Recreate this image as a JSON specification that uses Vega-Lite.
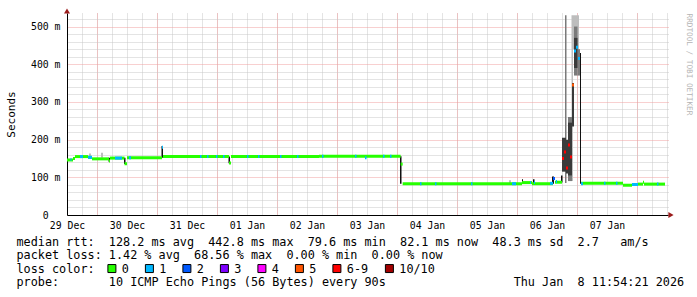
{
  "$schema": "https://vega.github.io/schema/vega-lite/v6.json",
  "width": 601,
  "height": 202,
  "autosize": {"type": "none"},
  "padding": {"left": 67, "top": 13, "right": 29, "bottom": 82},
  "background": "white",
  "config": {
    "view": {"stroke": null},
    "axis": {"labelFont": "DejaVu Sans Mono", "titleFont": "DejaVu Sans Mono", "titleFontWeight": "normal", "labelColor": "#000", "titleColor": "#000"}
  },
  "resolve": {"axis": {"x": "independent", "y": "independent"}, "legend": {"color": "independent"}},
  "datasets": {
    "smoke": [
      {"t0": "2025-12-29T08:48Z", "t1": "2025-12-29T09:36Z", "lo": 0.155, "hi": 0.163, "shade": "light"},
      {"t0": "2025-12-29T13:36Z", "t1": "2025-12-29T14:24Z", "lo": 0.152, "hi": 0.165, "shade": "light"},
      {"t0": "2026-01-05T08:48Z", "t1": "2026-01-05T09:36Z", "lo": 0.084, "hi": 0.092, "shade": "light"},
      {"t0": "2026-01-06T09:48Z", "t1": "2026-01-06T10:24Z", "lo": 0.090, "hi": 0.530, "shade": "light"},
      {"t0": "2026-01-06T10:24Z", "t1": "2026-01-06T12:48Z", "lo": 0.440, "hi": 0.530, "shade": "light"},
      {"t0": "2026-01-06T07:12Z", "t1": "2026-01-06T07:48Z", "lo": 0.085, "hi": 0.530, "shade": "mid"},
      {"t0": "2026-01-06T08:24Z", "t1": "2026-01-06T10:00Z", "lo": 0.090, "hi": 0.260, "shade": "mid"},
      {"t0": "2026-01-06T10:48Z", "t1": "2026-01-06T12:12Z", "lo": 0.370, "hi": 0.500, "shade": "mid"},
      {"t0": "2026-01-06T12:12Z", "t1": "2026-01-06T13:12Z", "lo": 0.370, "hi": 0.440, "shade": "mid"},
      {"t0": "2026-01-06T06:00Z", "t1": "2026-01-06T07:36Z", "lo": 0.115, "hi": 0.205, "shade": "dark"},
      {"t0": "2026-01-06T07:36Z", "t1": "2026-01-06T08:24Z", "lo": 0.110, "hi": 0.200, "shade": "dark"},
      {"t0": "2026-01-06T08:24Z", "t1": "2026-01-06T10:00Z", "lo": 0.105, "hi": 0.245, "shade": "dark"},
      {"t0": "2026-01-06T10:00Z", "t1": "2026-01-06T10:48Z", "lo": 0.235, "hi": 0.350, "shade": "dark"},
      {"t0": "2026-01-06T10:48Z", "t1": "2026-01-06T12:12Z", "lo": 0.390, "hi": 0.470, "shade": "dark"},
      {"t0": "2025-12-29T16:36Z", "t1": "2025-12-29T17:12Z", "lo": 0.141, "hi": 0.152, "shade": "black"},
      {"t0": "2025-12-29T22:48Z", "t1": "2025-12-29T23:24Z", "lo": 0.135, "hi": 0.152, "shade": "black"},
      {"t0": "2025-12-30T13:48Z", "t1": "2025-12-30T14:24Z", "lo": 0.152, "hi": 0.183, "shade": "black"},
      {"t0": "2025-12-31T16:36Z", "t1": "2025-12-31T17:12Z", "lo": 0.137, "hi": 0.155, "shade": "black"},
      {"t0": "2026-01-03T13:12Z", "t1": "2026-01-03T13:48Z", "lo": 0.083, "hi": 0.156, "shade": "black"},
      {"t0": "2026-01-05T14:00Z", "t1": "2026-01-05T14:24Z", "lo": 0.083, "hi": 0.095, "shade": "black"},
      {"t0": "2026-01-05T18:24Z", "t1": "2026-01-05T19:00Z", "lo": 0.083, "hi": 0.095, "shade": "black"},
      {"t0": "2026-01-06T02:00Z", "t1": "2026-01-06T02:48Z", "lo": 0.083, "hi": 0.102, "shade": "black"},
      {"t0": "2026-01-06T05:36Z", "t1": "2026-01-06T06:12Z", "lo": 0.086, "hi": 0.105, "shade": "black"},
      {"t0": "2026-01-06T13:12Z", "t1": "2026-01-06T13:36Z", "lo": 0.083, "hi": 0.430, "shade": "black"}
    ],
    "median": [
      {"t0": "2025-12-29T00:00Z", "t1": "2025-12-29T02:24Z", "rtt": 0.146, "loss": "0"},
      {"t0": "2025-12-29T02:24Z", "t1": "2025-12-29T03:12Z", "rtt": 0.150, "loss": "0"},
      {"t0": "2025-12-29T03:12Z", "t1": "2025-12-29T08:24Z", "rtt": 0.155, "loss": "0"},
      {"t0": "2025-12-29T08:24Z", "t1": "2025-12-29T10:00Z", "rtt": 0.153, "loss": "0"},
      {"t0": "2025-12-29T10:00Z", "t1": "2025-12-29T16:48Z", "rtt": 0.149, "loss": "0"},
      {"t0": "2025-12-29T16:48Z", "t1": "2025-12-29T17:12Z", "rtt": 0.143, "loss": "0"},
      {"t0": "2025-12-29T17:12Z", "t1": "2025-12-29T23:00Z", "rtt": 0.151, "loss": "0"},
      {"t0": "2025-12-29T23:00Z", "t1": "2025-12-30T00:00Z", "rtt": 0.136, "loss": "0"},
      {"t0": "2025-12-30T00:00Z", "t1": "2025-12-30T14:00Z", "rtt": 0.152, "loss": "0"},
      {"t0": "2025-12-30T14:24Z", "t1": "2025-12-31T16:48Z", "rtt": 0.155, "loss": "0"},
      {"t0": "2025-12-31T16:48Z", "t1": "2025-12-31T17:36Z", "rtt": 0.138, "loss": "0"},
      {"t0": "2025-12-31T17:36Z", "t1": "2026-01-02T04:48Z", "rtt": 0.155, "loss": "0"},
      {"t0": "2026-01-02T04:48Z", "t1": "2026-01-03T13:28Z", "rtt": 0.156, "loss": "0"},
      {"t0": "2026-01-03T13:28Z", "t1": "2026-01-03T14:16Z", "rtt": 0.135, "loss": "0"},
      {"t0": "2026-01-03T14:16Z", "t1": "2026-01-05T14:00Z", "rtt": 0.083, "loss": "0"},
      {"t0": "2026-01-05T14:00Z", "t1": "2026-01-05T18:00Z", "rtt": 0.086, "loss": "0"},
      {"t0": "2026-01-05T18:00Z", "t1": "2026-01-06T02:24Z", "rtt": 0.083, "loss": "0"},
      {"t0": "2026-01-06T03:12Z", "t1": "2026-01-06T06:00Z", "rtt": 0.087, "loss": "0"},
      {"t0": "2026-01-06T13:36Z", "t1": "2026-01-07T06:24Z", "rtt": 0.084, "loss": "0"},
      {"t0": "2026-01-07T06:24Z", "t1": "2026-01-07T10:00Z", "rtt": 0.079, "loss": "0"},
      {"t0": "2026-01-07T12:24Z", "t1": "2026-01-07T14:24Z", "rtt": 0.082, "loss": "0"},
      {"t0": "2026-01-07T14:24Z", "t1": "2026-01-07T14:48Z", "rtt": 0.087, "loss": "0"},
      {"t0": "2026-01-07T14:48Z", "t1": "2026-01-07T23:12Z", "rtt": 0.082, "loss": "0"},
      {"t0": "2025-12-29T01:24Z", "t1": "2025-12-29T01:48Z", "rtt": 0.147, "loss": "1"},
      {"t0": "2025-12-29T05:12Z", "t1": "2025-12-29T06:24Z", "rtt": 0.155, "loss": "1"},
      {"t0": "2025-12-29T08:24Z", "t1": "2025-12-29T10:00Z", "rtt": 0.153, "loss": "1"},
      {"t0": "2025-12-29T19:12Z", "t1": "2025-12-29T22:00Z", "rtt": 0.151, "loss": "1"},
      {"t0": "2025-12-30T00:48Z", "t1": "2025-12-30T01:36Z", "rtt": 0.152, "loss": "1"},
      {"t0": "2025-12-30T14:00Z", "t1": "2025-12-30T14:24Z", "rtt": 0.180, "loss": "1"},
      {"t0": "2025-12-31T05:12Z", "t1": "2025-12-31T05:48Z", "rtt": 0.155, "loss": "1"},
      {"t0": "2025-12-31T08:00Z", "t1": "2025-12-31T08:36Z", "rtt": 0.155, "loss": "1"},
      {"t0": "2025-12-31T11:36Z", "t1": "2025-12-31T12:12Z", "rtt": 0.155, "loss": "1"},
      {"t0": "2025-12-31T14:24Z", "t1": "2025-12-31T15:00Z", "rtt": 0.155, "loss": "1"},
      {"t0": "2026-01-01T00:00Z", "t1": "2026-01-01T00:36Z", "rtt": 0.155, "loss": "1"},
      {"t0": "2026-01-01T04:24Z", "t1": "2026-01-01T05:00Z", "rtt": 0.155, "loss": "1"},
      {"t0": "2026-01-01T13:12Z", "t1": "2026-01-01T13:48Z", "rtt": 0.155, "loss": "1"},
      {"t0": "2026-01-01T20:00Z", "t1": "2026-01-01T20:36Z", "rtt": 0.155, "loss": "1"},
      {"t0": "2026-01-02T06:00Z", "t1": "2026-01-02T06:36Z", "rtt": 0.156, "loss": "1"},
      {"t0": "2026-01-02T19:12Z", "t1": "2026-01-02T19:48Z", "rtt": 0.156, "loss": "1"},
      {"t0": "2026-01-02T23:12Z", "t1": "2026-01-02T23:48Z", "rtt": 0.152, "loss": "1"},
      {"t0": "2026-01-03T06:24Z", "t1": "2026-01-03T07:00Z", "rtt": 0.156, "loss": "1"},
      {"t0": "2026-01-03T09:12Z", "t1": "2026-01-03T09:48Z", "rtt": 0.156, "loss": "1"},
      {"t0": "2026-01-03T21:12Z", "t1": "2026-01-03T21:48Z", "rtt": 0.083, "loss": "1"},
      {"t0": "2026-01-04T03:12Z", "t1": "2026-01-04T03:48Z", "rtt": 0.083, "loss": "1"},
      {"t0": "2026-01-04T17:36Z", "t1": "2026-01-04T18:12Z", "rtt": 0.083, "loss": "1"},
      {"t0": "2026-01-05T10:00Z", "t1": "2026-01-05T11:36Z", "rtt": 0.083, "loss": "1"},
      {"t0": "2026-01-05T17:12Z", "t1": "2026-01-05T17:36Z", "rtt": 0.086, "loss": "1"},
      {"t0": "2026-01-05T18:48Z", "t1": "2026-01-05T19:12Z", "rtt": 0.086, "loss": "1"},
      {"t0": "2026-01-06T01:12Z", "t1": "2026-01-06T02:24Z", "rtt": 0.084, "loss": "1"},
      {"t0": "2026-01-06T03:36Z", "t1": "2026-01-06T04:00Z", "rtt": 0.089, "loss": "1"},
      {"t0": "2026-01-06T10:48Z", "t1": "2026-01-06T11:36Z", "rtt": 0.435, "loss": "1"},
      {"t0": "2026-01-06T11:36Z", "t1": "2026-01-06T12:24Z", "rtt": 0.445, "loss": "1"},
      {"t0": "2026-01-06T12:24Z", "t1": "2026-01-06T13:12Z", "rtt": 0.415, "loss": "1"},
      {"t0": "2026-01-06T13:36Z", "t1": "2026-01-06T14:24Z", "rtt": 0.083, "loss": "1"},
      {"t0": "2026-01-06T22:48Z", "t1": "2026-01-06T23:24Z", "rtt": 0.084, "loss": "1"},
      {"t0": "2026-01-07T03:36Z", "t1": "2026-01-07T04:12Z", "rtt": 0.084, "loss": "1"},
      {"t0": "2026-01-07T10:00Z", "t1": "2026-01-07T12:24Z", "rtt": 0.081, "loss": "1"},
      {"t0": "2026-01-07T20:00Z", "t1": "2026-01-07T20:36Z", "rtt": 0.082, "loss": "1"},
      {"t0": "2026-01-06T02:24Z", "t1": "2026-01-06T03:12Z", "rtt": 0.097, "loss": "2"},
      {"t0": "2026-01-06T10:00Z", "t1": "2026-01-06T10:48Z", "rtt": 0.345, "loss": "5"},
      {"t0": "2026-01-06T06:00Z", "t1": "2026-01-06T06:48Z", "rtt": 0.150, "loss": "6-9"},
      {"t0": "2026-01-06T06:48Z", "t1": "2026-01-06T07:36Z", "rtt": 0.167, "loss": "6-9"},
      {"t0": "2026-01-06T07:36Z", "t1": "2026-01-06T08:24Z", "rtt": 0.125, "loss": "6-9"},
      {"t0": "2026-01-06T08:24Z", "t1": "2026-01-06T09:12Z", "rtt": 0.186, "loss": "6-9"},
      {"t0": "2026-01-06T09:12Z", "t1": "2026-01-06T10:00Z", "rtt": 0.154, "loss": "6-9"}
    ]
  },
  "layer": [
    {
      "data": {"name": "smoke"},
      "mark": {"type": "rect"},
      "encoding": {
        "x": {"field": "t0", "type": "temporal", "scale": {"type": "utc", "domain": [1766966400000, 1767831840000]},
          "axis": {"orient": "bottom", "grid": true, "labels": false, "ticks": false, "domain": false,
            "values": [1766966400000, 1766988000000, 1767009600000, 1767031200000, 1767052800000, 1767074400000, 1767096000000, 1767117600000, 1767139200000, 1767160800000, 1767182400000, 1767204000000, 1767225600000, 1767247200000, 1767268800000, 1767290400000, 1767312000000, 1767333600000, 1767355200000, 1767376800000, 1767398400000, 1767420000000, 1767441600000, 1767463200000, 1767484800000, 1767506400000, 1767528000000, 1767549600000, 1767571200000, 1767592800000, 1767614400000, 1767636000000, 1767657600000, 1767679200000, 1767700800000, 1767722400000, 1767744000000, 1767765600000, 1767787200000, 1767808800000, 1767830400000],
            "gridColor": "#c8c8c8", "gridDash": [1, 1], "gridWidth": 1,
            "title": "median rtt:\u00a0\u00a0128.2 ms avg\u00a0\u00a0442.8 ms max\u00a0\u00a079.6 ms min\u00a0\u00a082.1 ms now\u00a0\u00a048.3 ms sd\u00a0\u00a02.7\u00a0\u00a0\u00a0am/s",
            "titleX": -51, "titleY": 30.5, "titleAlign": "left", "titleAnchor": "start", "titleBaseline": "alphabetic", "titleAngle": 0, "titleFontSize": 11.8}},
        "x2": {"field": "t1"},
        "y": {"field": "lo", "type": "quantitative", "scale": {"domain": [0, 0.536]},
          "axis": {"orient": "left", "grid": true, "labels": false, "ticks": false, "domain": false, "title": null,
            "values": [0.02, 0.04, 0.06, 0.08, 0.12, 0.14, 0.16, 0.18, 0.22, 0.24, 0.26, 0.28, 0.32, 0.34, 0.36, 0.38, 0.42, 0.44, 0.46, 0.48, 0.52],
            "gridColor": "#c8c8c8", "gridDash": [1, 1], "gridWidth": 1}},
        "y2": {"field": "hi"},
        "fill": {"field": "shade", "type": "nominal",
          "scale": {"domain": ["light", "mid", "dark", "black"], "range": ["#bdbdbd", "#7a7a7a", "#3a3a3a", "#111111"]},
          "legend": null}
      }
    },
    {
      "data": {"name": "median"},
      "mark": {"type": "rule", "strokeWidth": 3, "strokeCap": "butt"},
      "encoding": {
        "x": {"field": "t0", "type": "temporal", "scale": {"type": "utc", "domain": [1766966400000, 1767831840000]},
          "axis": {"orient": "bottom", "grid": true, "labels": false, "ticks": false, "domain": false,
            "values": [1767009600000, 1767096000000, 1767182400000, 1767268800000, 1767355200000, 1767441600000, 1767528000000, 1767614400000, 1767700800000, 1767787200000],
            "gridColor": "#f0a0a0", "gridDash": [1, 1], "gridWidth": 1,
            "title": "packet loss: 1.42 % avg\u00a0\u00a068.56 % max\u00a0\u00a00.00 % min\u00a0\u00a00.00 % now",
            "titleX": -51, "titleY": 43.8, "titleAlign": "left", "titleAnchor": "start", "titleBaseline": "alphabetic", "titleAngle": 0, "titleFontSize": 11.8}},
        "x2": {"field": "t1"},
        "y": {"field": "rtt", "type": "quantitative", "scale": {"domain": [0, 0.536]},
          "axis": {"orient": "left", "grid": true, "gridColor": "#f0a0a0", "gridDash": [1, 1], "gridWidth": 1,
            "values": [0, 0.1, 0.2, 0.3, 0.4, 0.5],
            "labelExpr": "datum.value == 0 ? '0\u00a0\u00a0\u200b' : format(datum.value * 1000, 'd') + '\u00a0m'",
            "labelFontSize": 9.8, "labelPadding": 7, "ticks": false, "domain": true, "domainColor": "#000", "domainWidth": 1,
            "title": "Seconds", "titleFontSize": 11, "titleX": -56, "titleY": 101, "titleAngle": 270,
            "titleAlign": "center", "titleBaseline": "middle"}},
        "color": {"field": "loss", "type": "nominal",
          "scale": {"domain": ["0", "1", "2", "3", "4", "5", "6-9", "10/10"],
            "range": ["#26ff00", "#00b8ff", "#0059ff", "#7e00ff", "#ff00ff", "#ff5500", "#ff0000", "#a10000"]},
          "legend": null}
      }
    },
    {
      "data": {"name": "median"},
      "transform": [{"filter": "false"}],
      "mark": {"type": "square", "filled": true, "stroke": "#000", "strokeWidth": 1, "opacity": 1},
      "encoding": {
        "color": {"field": "loss", "type": "nominal",
          "scale": {"domain": ["0", "1", "2", "3", "4", "5", "6-9", "10/10"],
            "range": ["#26ff00", "#00b8ff", "#0059ff", "#7e00ff", "#ff00ff", "#ff5500", "#ff0000", "#a10000"]},
          "legend": {
            "orient": "none", "legendX": 39, "legendY": 249.5, "direction": "horizontal", "padding": 0,
            "title": null,
            "symbolType": "square", "symbolSize": 64, "symbolStrokeColor": "#000", "symbolStrokeWidth": 1, "symbolOpacity": 1,
            "labelFont": "DejaVu Sans Mono", "labelFontSize": 11.8, "labelColor": "#000", "labelOffset": 4, "columnPadding": 13.5
          }}
      }
    },
    {
      "data": {"values": [{"t": "2025-12-29T00:00Z", "rtt": 0.536}]},
      "mark": {"type": "point", "shape": "triangle-up", "filled": true, "color": "#9b1c1c", "opacity": 1, "size": 36, "yOffset": -2},
      "encoding": {
        "x": {"field": "t", "type": "temporal", "scale": {"type": "utc", "domain": [1766966400000, 1767831840000]},
          "axis": {"orient": "bottom", "grid": false, "ticks": false, "domain": true, "domainColor": "#000", "domainWidth": 1,
            "values": [1766966400000, 1767052800000, 1767139200000, 1767225600000, 1767312000000, 1767398400000, 1767484800000, 1767571200000, 1767657600000, 1767744000000],
            "labelExpr": "utcFormat(datum.value, '%d %b')", "labelFontSize": 9.8, "labelPadding": 5,
            "labelFlush": false, "labelOverlap": false, "labelBound": false,
            "title": "probe:\u00a0\u00a0\u00a0\u00a0\u00a0\u00a0\u00a010 ICMP Echo Pings (56 Bytes) every 90s\u00a0\u00a0\u00a0\u00a0\u00a0\u00a0\u00a0\u00a0\u00a0\u00a0\u00a0\u00a0\u00a0\u00a0\u00a0\u00a0\u00a0\u00a0Thu Jan\u00a0\u00a08 11:54:21 2026",
            "titleX": -51, "titleY": 70.4, "titleAlign": "left", "titleAnchor": "start", "titleBaseline": "alphabetic",
            "titleAngle": 0, "titleFontSize": 11.8}},
        "y": {"field": "rtt", "type": "quantitative", "scale": {"domain": [0, 0.536]}, "axis": null}
      }
    },
    {
      "data": {"values": [{"t": "2026-01-08T00:24Z", "rtt": 0}]},
      "mark": {"type": "point", "shape": "triangle-right", "filled": true, "color": "#9b1c1c", "opacity": 1, "size": 36, "xOffset": 3},
      "encoding": {
        "x": {"field": "t", "type": "temporal", "scale": {"type": "utc", "domain": [1766966400000, 1767831840000]},
          "axis": {"orient": "bottom", "grid": false, "labels": false, "ticks": false, "domain": false,
            "title": "loss color:", "titleX": -51, "titleY": 57.1, "titleAlign": "left", "titleAnchor": "start",
            "titleBaseline": "alphabetic", "titleAngle": 0, "titleFontSize": 11.8}},
        "y": {"field": "rtt", "type": "quantitative", "scale": {"domain": [0, 0.536]},
          "axis": {"orient": "right", "labels": false, "ticks": false, "domain": false, "grid": false,
            "title": "RRDTOOL / TOBI OETIKER", "titleAngle": 90, "titleX": 20, "titleY": 0, "titleAlign": "left",
            "titleBaseline": "middle", "titleFontSize": 7.7, "titleColor": "#b4b4b4"}}
      }
    }
  ]
}
